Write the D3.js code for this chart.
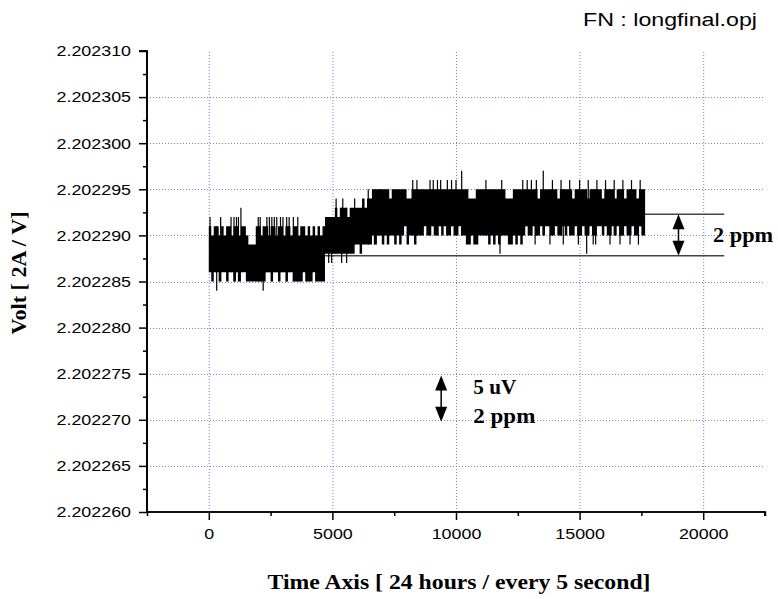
<!DOCTYPE html>
<html>
<head>
<meta charset="utf-8">
<script src="https://cdn.jsdelivr.net/npm/d3@7"></script>
<style>
body { margin: 0; background: #fff; }
text { fill: #000; }
</style>
</head>
<body>
<svg id="chart" width="778" height="599"></svg>
<script>
// axis ticks
const xTicks = [0, 5000, 10000, 15000, 20000];
const xMinor = [-2500, 2500, 7500, 12500, 17500, 22500];
const yTicks = [2.202260, 2.202265, 2.202270, 2.202275, 2.202280, 2.202285,
                2.202290, 2.202295, 2.202300, 2.202305, 2.202310];
const yMinor = [2.2022625, 2.2022675, 2.2022725, 2.2022775, 2.2022825,
                2.2022875, 2.2022925, 2.2022975, 2.2023025, 2.2023075];

// readings: uV above 2.202280, one column per 100 samples
const base = 2.202280;
const colStep = 100;
const dataEnd = 17650;
const hi = [
  11,10,11,11,10,11,10,11,11,10,
  11,11,10,11,11,10, 9, 9, 9,11,
  11,10,11,11,10,11,11,10,11,11,
  10,11,11,10,11,11,10,11,11,10,
  11,10,11,10,11,10,11,12,12,12,
  12,13,12,13,13,13,12,13,13,13,
  13,13,14,13,14,14,15,15,15,15,
  15,15,15,14,15,15,15,15,15,15,
  14,14,15,15,15,15,15,15,15,15,
  15,15,15,15,15,15,15,15,15,15,
  15,15,15,15,15,14,14,14,15,15,
  15,15,15,15,15,15,15,15,15,15,
  14,14,14,15,15,15,15,15,15,15,
  15,15,15,14,15,15,15,15,15,15,
  15,14,15,15,15,15,15,14,15,15,
  15,15,15,14,15,15,15,15,15,14,
  15,15,15,15,14,15,15,15,14,15,
  15,15,15,14,15,15,15
];
const lo = [
   6, 5, 6, 6, 5, 6, 6, 5, 6, 6,
   5, 6, 5, 6, 6, 5, 5, 5, 5, 5,
   5, 5, 5, 6, 6, 5, 6, 6, 5, 6,
   6, 5, 6, 6, 5, 5, 5, 5, 6, 5,
   5, 5, 6, 5, 5, 5, 5, 8, 8, 8,
   8, 8, 8, 8, 8, 8, 8, 8, 8, 9,
   9, 8, 9, 9, 9, 9,10, 9,10,10,
   9,10, 9,10,10, 9,10, 9,10,11,
   9,10,10, 9,10,10,10,11,10,10,
  11,10,10,11,10,11,10,10,11,10,
  10,11,10,10, 9, 9,10, 9, 9,10,
  10,10,10, 9,10, 9,10, 9,10,10,
  10, 9, 9,10, 9,10, 9,10,11,10,
  10,11,10,10,11,10,11,11,10,10,
  11,10,10,11,10,11,10,10,11,10,
  10,11,10,10,11,10,10,11,11,10,
  11,10,10,11,10,11,10,10,11,10,
  10,11,10,10,11,10,10
];
// single-sample excursions outside the band
const spikeUpT = [50, 480, 900, 1020, 1120, 1200, 1300, 2000, 2080, 2350, 2450, 2550, 2650,
                  2750, 2900, 3000, 3150, 3250, 3420, 3600,
                  5150, 5420, 5900, 6450, 6700, 6900,
                  8250, 8420, 8950, 9080, 9250, 9380, 9650, 9820, 10000, 10230, 11210,
                  11850, 12700, 12880, 13050, 13250, 13530, 13900, 14250, 14600, 15000,
                  15350, 15700, 16050, 16400, 16750, 17100, 17450];
const spikeUpU = [12, 12, 12, 12, 12, 12, 13, 12, 12, 12, 12, 12, 12,
                  12, 12, 12, 12, 12, 12, 12,
                  14, 14, 14, 15, 15, 15,
                  16, 16, 16, 16, 16, 16, 16, 16, 16, 17, 16,
                  16, 16, 16, 16, 16, 17, 16, 16, 16, 16,
                  16, 16, 16, 16, 16, 16, 16];
const spikeDnT = [320, 2200, 4850, 4970, 5374, 5576, 11780, 15286,
                  13200, 13800, 14340, 14950, 15550, 15650, 16230, 16635, 17040, 17380];
const spikeDnU = [4, 4, 7, 7, 7, 7, 8, 8,
                  9, 9, 9, 9, 9, 9, 9, 9, 9, 9];

// 2 ppm reference lines and arrows
const refUpper = 2.2022923, refLower = 2.2022878;
const refUpperFrom = 17000, refLowerFrom = 4700, refTo = 20850;
const arrowRight = {t: 19000, from: refUpper, to: refLower};
const arrowScale = {t: 9400, from: 2.2022748, to: 2.2022698};

const svg = d3.select("#chart");
const margin = {left: 147, right: 13, top: 51, bottom: 87};
const W = 778, H = 599;
const stretch = 1.19; // the original text is drawn wider than normal

const x = d3.scaleLinear().domain([-2500, 22500]).range([margin.left, W - margin.right]);
const y = d3.scaleLinear().domain([2.202260, 2.202310]).range([H - margin.bottom, margin.top]);
const u = v => base + v * 1e-6;

function widen(sel, k) {
  sel.each(function() {
    const w = this.getComputedTextLength();
    d3.select(this).attr("textLength", w * k).attr("lengthAdjust", "spacingAndGlyphs");
  });
}

// grid
const grid = svg.append("g").attr("stroke", "#7b7bf5").attr("stroke-width", 1)
  .attr("stroke-dasharray", "1,2");
xTicks.forEach(t => {
  grid.append("line").attr("x1", x(t) + 0.5).attr("x2", x(t) + 0.5)
    .attr("y1", y.range()[0]).attr("y2", y.range()[1]);
});
yTicks.slice(1, -1).forEach(t => {
  grid.append("line").attr("y1", Math.round(y(t)) + 0.5).attr("y2", Math.round(y(t)) + 0.5)
    .attr("x1", x.range()[0]).attr("x2", x.range()[1]);
});

// reference lines
svg.append("line").attr("x1", x(refLowerFrom)).attr("x2", x(refTo))
  .attr("y1", y(refLower)).attr("y2", y(refLower))
  .attr("stroke", "#444").attr("stroke-width", 1.5);
svg.append("line").attr("x1", x(refUpperFrom)).attr("x2", x(refTo))
  .attr("y1", y(refUpper)).attr("y2", y(refUpper))
  .attr("stroke", "#444").attr("stroke-width", 1.5);

// noise band
const cols = hi.map((h, i) => ({t: i * colStep, hi: h, lo: lo[i]}));
cols.push({t: dataEnd, hi: hi[hi.length - 1], lo: lo[lo.length - 1]});
const area = d3.area()
  .x(d => x(d.t))
  .y0(d => y(u(d.lo)))
  .y1(d => y(u(d.hi)))
  .curve(d3.curveStepAfter);
svg.append("path").datum(cols).attr("d", area).attr("fill", "#000");

const colAt = t => Math.min(hi.length - 1, Math.floor(t / colStep));
svg.append("g").selectAll("line.up").data(spikeUpT).join("line")
  .attr("x1", t => x(t)).attr("x2", t => x(t))
  .attr("y1", (t, i) => y(u(spikeUpU[i])))
  .attr("y2", t => y(u(lo[colAt(t)])))
  .attr("stroke", "#000").attr("stroke-width", 1.2);
svg.append("g").selectAll("line.dn").data(spikeDnT).join("line")
  .attr("x1", t => x(t)).attr("x2", t => x(t))
  .attr("y1", (t, i) => y(u(spikeDnU[i])))
  .attr("y2", t => y(u(hi[colAt(t)])))
  .attr("stroke", "#000").attr("stroke-width", 1.2);

// axes
const tickFont = "'Liberation Sans', Arial, sans-serif";
const yAxis = svg.append("g").attr("transform", `translate(${x.range()[0]},0)`)
  .call(d3.axisLeft(y).tickValues(yTicks).tickSize(8).tickPadding(8).tickFormat(d => d.toFixed(6)));
yAxis.append("g").call(d3.axisLeft(y).tickValues(yMinor).tickSize(4).tickFormat(""));
const xAxis = svg.append("g").attr("transform", `translate(0,${y.range()[0]})`)
  .call(d3.axisBottom(x).tickValues(xTicks).tickSize(8).tickPadding(8).tickFormat(d3.format("d")));
xAxis.append("g").call(d3.axisBottom(x).tickValues(xMinor).tickSize(4).tickFormat(""));
[yAxis, xAxis].forEach(a => {
  a.selectAll("path.domain").attr("stroke", "#000").attr("stroke-width", 1.7);
  a.selectAll(".tick line").attr("stroke", "#000").attr("stroke-width", 1.5);
  a.selectAll(".tick text").attr("font-family", tickFont).attr("font-size", 15).attr("fill", "#000");
  widen(a.selectAll(".tick text"), stretch);
});
yAxis.selectAll("path.domain").attr("d", `M-8,${y.range()[1]}H0V${y.range()[0]}`);
xAxis.selectAll("path.domain").attr("d", `M${x.range()[0]},0H${x.range()[1]}V4`);

// titles
const serif = "'Liberation Serif', 'Times New Roman', serif";
svg.append("text").attr("x", 459).attr("y", 589)
  .attr("text-anchor", "middle").attr("font-family", serif).attr("font-weight", "bold")
  .attr("font-size", 21).attr("textLength", 383).attr("lengthAdjust", "spacingAndGlyphs")
  .text("Time Axis [ 24 hours / every 5 second]");
svg.append("text").attr("transform", "translate(26,273) rotate(-90)")
  .attr("text-anchor", "middle").attr("font-family", serif).attr("font-weight", "bold")
  .attr("font-size", 20).attr("textLength", 123).attr("lengthAdjust", "spacingAndGlyphs")
  .text("Volt [ 2A / V]");
svg.append("text").attr("x", 757).attr("y", 26).attr("text-anchor", "end")
  .attr("font-family", tickFont).attr("font-size", 18).attr("textLength", 174)
  .attr("lengthAdjust", "spacingAndGlyphs").text("FN : longfinal.opj");

// double arrows
function doubleArrow(a) {
  const cx = x(a.t), y1 = y(a.from), y2 = y(a.to);
  const hl = 15, hw = 6;
  const g = svg.append("g").attr("fill", "#000");
  g.append("line").attr("x1", cx).attr("x2", cx).attr("y1", y1 + hl - 2).attr("y2", y2 - hl + 2)
    .attr("stroke", "#000").attr("stroke-width", 1.5);
  g.append("path").attr("d", `M${cx},${y1}L${cx - hw},${y1 + hl}L${cx + hw},${y1 + hl}Z`);
  g.append("path").attr("d", `M${cx},${y2}L${cx - hw},${y2 - hl}L${cx + hw},${y2 - hl}Z`);
}
doubleArrow(arrowRight);
doubleArrow(arrowScale);

const ann = (tx, ty, s, w) => svg.append("text").attr("x", tx).attr("y", ty)
  .attr("font-family", serif).attr("font-weight", "bold").attr("font-size", 20)
  .attr("textLength", w).attr("lengthAdjust", "spacingAndGlyphs").text(s);
ann(x(10700), 394, "5 uV", 43);
ann(x(10700), 423, "2 ppm", 62);
ann(x(20400), 242, "2 ppm", 60);
</script>
</body>
</html>
